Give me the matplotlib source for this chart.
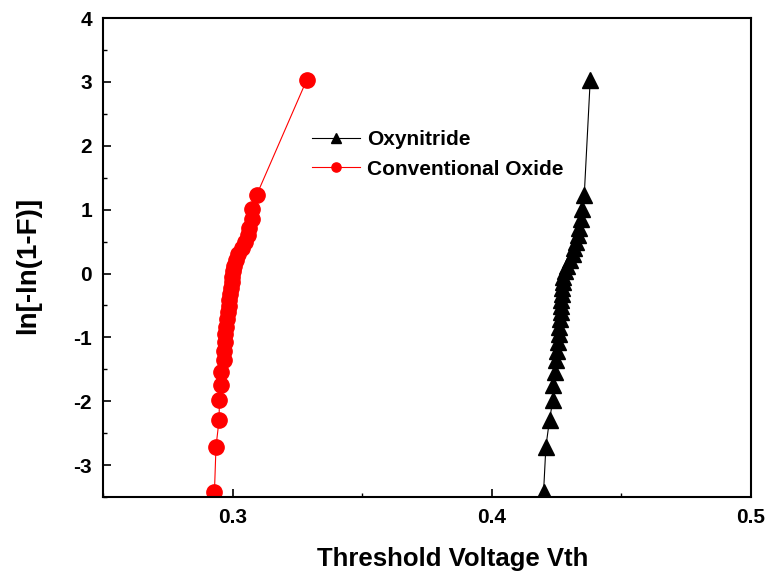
import matplotlib.pyplot as plt
from matplotlib.ticker import MultipleLocator

plt.rcParams['font.family'] = ['Liberation Sans', 'DejaVu Sans']
plt.rcParams['font.weight'] = 'bold'
plt.rcParams['axes.unicode_minus'] = False

# ln[-ln(1-F)] rows shared by both samples
weibull_y = [-3.42, -2.71, -2.29, -1.98, -1.74, -1.54, -1.36, -1.21, -1.07, -0.94,
             -0.83, -0.71, -0.61, -0.51, -0.41, -0.32, -0.23, -0.14, -0.05, 0.035,
             0.12, 0.21, 0.30, 0.40, 0.50, 0.60, 0.72, 0.85, 1.01, 1.23, 3.03]

vth_oxynitride = [0.4200, 0.4209, 0.4223, 0.4236, 0.4236, 0.4243, 0.4248, 0.4252,
                  0.4255, 0.4258, 0.4260, 0.4263, 0.4266, 0.4267, 0.4269, 0.4271,
                  0.4272, 0.4275, 0.4275, 0.4281, 0.4290, 0.4303, 0.4312, 0.4318,
                  0.4325, 0.4331, 0.4338, 0.4344, 0.4350, 0.4357, 0.4380]

vth_oxide = [0.2930, 0.2936, 0.2948, 0.2949, 0.2955, 0.2956, 0.2965, 0.2967,
             0.2970, 0.2971, 0.2975, 0.2977, 0.2981, 0.2985, 0.2987, 0.2990,
             0.2994, 0.2998, 0.2999, 0.3003, 0.3006, 0.3013, 0.3022, 0.3035,
             0.3048, 0.3059, 0.3064, 0.3074, 0.3076, 0.3093, 0.3286]

fig = plt.figure(figsize=(7.67, 5.82), dpi=100)
ax = fig.add_axes([0.1343, 0.146, 0.8447, 0.823])

ax.plot(vth_oxynitride, weibull_y, color='black', lw=0.8, marker='^', ms=11,
        label='Oxynitride')
ax.plot(vth_oxide, weibull_y, color='red', lw=0.8, marker='o', ms=11,
        label='Conventional Oxide')

ax.set_xlim(0.25, 0.5)
ax.set_ylim(-3.5, 4)
ax.xaxis.set_minor_locator(MultipleLocator(0.05))
ax.yaxis.set_major_locator(MultipleLocator(1))
ax.yaxis.set_minor_locator(MultipleLocator(0.5))
ax.set_xticks([0.3, 0.4, 0.5])
ax.set_xticklabels(['0.3', '0.4', '0.5'])
ax.tick_params(which='major', direction='in', length=6, width=1.2, labelsize=15, pad=8)
ax.tick_params(which='minor', direction='in', length=3, width=1.0)
for s in ax.spines.values():
    s.set_linewidth(1.5)

ax.set_xlabel('Threshold Voltage Vth', fontsize=18.5, fontweight='bold')
ax.xaxis.set_label_coords(0.54, -0.105)
ax.set_ylabel('ln[-ln(1-F)]', fontsize=20, fontweight='bold')
ax.yaxis.set_label_coords(-0.095, 0.483)

ax.legend(loc='upper left', bbox_to_anchor=(0.322, 0.766), frameon=False,
          fontsize=15, markerscale=0.6, handlelength=2.3, handletextpad=0.35,
          borderpad=0, borderaxespad=0, labelspacing=0.5)

fig.savefig('out.png', dpi=100)
